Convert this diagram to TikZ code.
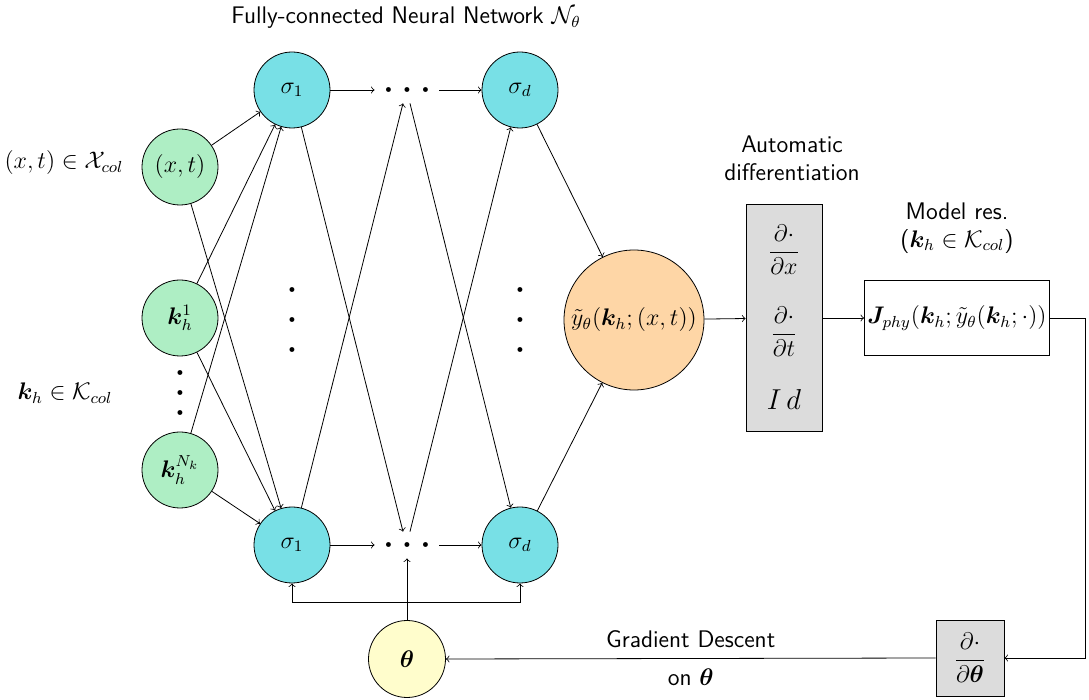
\documentclass[tikz,border=0pt]{standalone}
\usepackage{amsmath}
\usepackage{bm}
\definecolor{ingreen}{RGB}{174,238,196}
\definecolor{hidcyan}{RGB}{120,224,230}
\definecolor{outorange}{RGB}{254,214,166}
\definecolor{thyellow}{RGB}{255,253,204}
\definecolor{boxgray}{RGB}{220,220,220}
\newcommand{\hdotrow}{{\tiny$\bullet$\hspace{5.6pt}$\bullet$\hspace{5.6pt}$\bullet$}}
\begin{document}
\begin{tikzpicture}[x=0.5pt,y=-0.5pt, font=\large, >=to,
  every node/.style={inner sep=0pt},
  inpnode/.style={circle, draw, fill=ingreen, minimum size=38pt},
  hidnode/.style={circle, draw, fill=hidcyan, minimum size=38pt},
  dotnode/.style={rectangle, minimum width=32pt, minimum height=13pt},
  graybox/.style={rectangle, draw, fill=boxgray},
  lbl/.style={font=\large\sffamily, align=center}]
\useasboundingbox (0,0) rectangle (1089,700);

% title
\node[lbl] (title) at (406,18) {Fully-connected Neural Network $\mathcal{N}_\theta$};

% inputs
\node[inpnode] (nxt) at (180,167) {$(x,t)$};
\node[inpnode] (nk1) at (180,318) {$\bm{k}_h^{1}$};
\node[inpnode] (nkN) at (180,470) {$\bm{k}_h^{N_k}$};
\node[align=center, font=\tiny] (vd0) at (180,393) {$\bullet$\\[3.8pt]$\bullet$\\[3.8pt]$\bullet$};
\node (l1) at (64,163) {$(x,t)\in\mathcal{X}_{col}$};
\node (l2) at (65,393) {$\bm{k}_h\in\mathcal{K}_{col}$};

% hidden layers
\node[hidnode] (s1t) at (292,90) {$\sigma_1$};
\node[hidnode] (s1b) at (292,545) {$\sigma_1$};
\node[dotnode] (dt) at (407,90) {\hdotrow};
\node[dotnode] (db) at (407,545) {\hdotrow};
\node[hidnode] (sdt) at (520,90) {$\sigma_d$};
\node[hidnode] (sdb) at (520,545) {$\sigma_d$};
\node[align=center, font=\tiny] (vd1) at (292,320) {$\bullet$\\[8.8pt]$\bullet$\\[8.8pt]$\bullet$};
\node[align=center, font=\tiny] (vd2) at (520,320) {$\bullet$\\[8.8pt]$\bullet$\\[8.8pt]$\bullet$};

% output
\node[circle, draw, fill=outorange, minimum size=70pt] (out) at (634,320) {$\tilde{y}_\theta(\bm{k}_h;(x,t))$};

% automatic differentiation
\node[lbl] (adlbl) at (792,158) {Automatic\\differentiation};
\node[graybox, minimum width=38pt, minimum height=113.5pt] (ad) at (784,318) {};
\node (f1) at (784,250) {$\displaystyle\frac{\partial\cdot}{\partial x}$};
\node (f2) at (784,332) {$\displaystyle\frac{\partial\cdot}{\partial t}$};
\node (f3) at (784,400) {\fontsize{15}{18}\selectfont$I\,d$};

% model residual
\node[lbl] (mlbl) at (957,228) {Model res.\\($\bm{k}_h\in\mathcal{K}_{col}$)};
\node[rectangle, draw, fill=white, minimum width=92.5pt, minimum height=37.5pt] (J) at (957,318) {$\bm{J}_{phy}(\bm{k}_h;\tilde{y}_\theta(\bm{k}_h;\cdot))$};

% gradient
\node[graybox, minimum width=34pt, minimum height=38pt] (dth) at (970,658) {$\displaystyle\frac{\partial\cdot}{\partial\bm{\theta}}$};
\node[circle, draw, fill=thyellow, minimum size=38.5pt] (theta) at (407,659) {$\bm{\theta}$};

% connections input -> first layer
\foreach \a in {nxt,nk1,nkN} {
  \draw[->] (\a) -- (s1t);
  \draw[->] (\a) -- (s1b);
}
% first layer -> dots
\draw[->] (s1t) -- (dt);
\draw[->] (s1b) -- (db);
\draw[->] (s1t) -- ([xshift=-2pt]db.north);
\draw[->] (s1b) -- ([xshift=-2pt]dt.south);
% dots -> last layer
\draw[->] (dt) -- (sdt);
\draw[->] (db) -- (sdb);
\draw[->] ([xshift=1.5pt]dt.south) -- (sdb);
\draw[->] ([xshift=1.5pt]db.north) -- (sdt);
% last layer -> output
\draw[->] (sdt) -- (out);
\draw[->] (sdb) -- (out);
\draw[->] (out) -- (ad);
\draw[->] (ad) -- (J);
% feedback
\coordinate (cr) at (1085,658);
\draw[->] (J.east) -| (cr) -- (dth.east);
\draw[->] (dth.west) -- (theta.east)
  node[midway, above=5pt, font=\large\sffamily] {Gradient Descent}
  node[midway, below=5pt, font=\large\sffamily] {on $\bm{\theta}$};
\draw[->] (theta.north) -- (db.south);
\coordinate (bus) at (407,602);
\draw[->] (bus) -| (s1b.south);
\draw[->] (bus) -| (sdb.south);
\end{tikzpicture}
\end{document}
